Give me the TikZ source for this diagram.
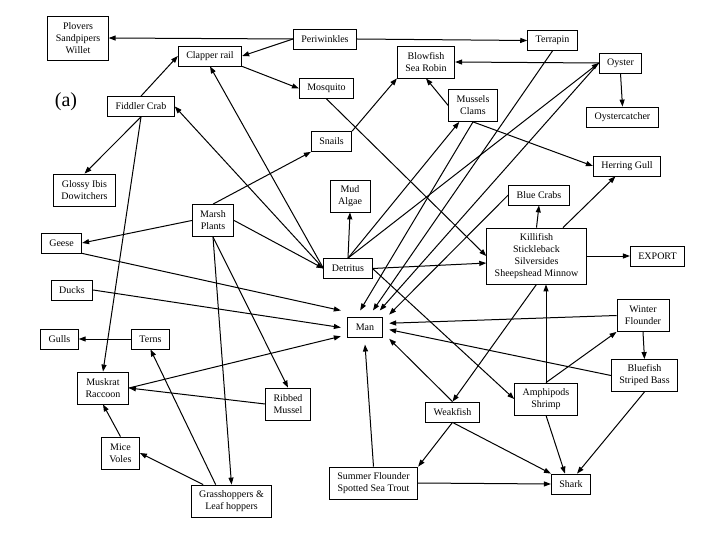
\documentclass[tikz,border=0pt]{standalone}
\usepackage{fontspec}
\setmainfont{Liberation Serif}
\usetikzlibrary{arrows.meta}

\begin{document}
\begin{tikzpicture}[x=1pt, y=-1pt, line width=1pt,
  >={Triangle[length=7pt, width=5pt]},
  sp/.style={draw, line width=0.8pt, align=center, inner xsep=8pt, inner ysep=2pt,
    minimum height=20pt, font=\fontsize{10}{12}\selectfont},
  l2/.style={minimum height=32pt},
  l3/.style={minimum height=44pt},
  l4/.style={minimum height=56pt}]
  \useasboundingbox (0,0) rectangle (720,540);

  \node[font=\fontsize{20}{24}\selectfont] (LBL) at (66,102) {(a)};

  \node[sp, l3] (PSW) at (78,38) {Plovers\\Sandpipers\\Willet};
  \node[sp] (CR) at (210,56) {Clapper rail};
  \node[sp] (PW) at (325,39) {Periwinkles};
  \node[sp] (TP) at (552.5,40.5) {Terrapin};
  \node[sp, l2] (BF) at (426,62) {Blowfish\\Sea Robin};
  \node[sp] (OY) at (620.5,63) {Oyster};
  \node[sp] (MQ) at (326.5,88.5) {Mosquito};
  \node[sp] (FC) at (141,106.5) {Fiddler Crab};
  \node[sp, l2] (MC) at (473,105.5) {Mussels\\Clams};
  \node[sp] (OC) at (622.5,117) {Oystercatcher};
  \node[sp] (SN) at (331.5,141.5) {Snails};
  \node[sp] (HG) at (627,166) {Herring Gull};
  \node[sp, l2] (GI) at (84.5,190) {Glossy Ibis\\Dowitchers};
  \node[sp, l2] (MA) at (350,196) {Mud\\Algae};
  \node[sp] (BC) at (539,195) {Blue Crabs};
  \node[sp, l2] (MP) at (213,220.5) {Marsh\\Plants};
  \node[sp] (GE) at (61.5,243) {Geese};
  \node[sp] (DT) at (348,268.5) {Detritus};
  \node[sp, l4] (KF) at (536.5,256) {Killifish\\Stickleback\\Silversides\\Sheepshead Minnow};
  \node[sp] (EX) at (657.5,256) {EXPORT};
  \node[sp] (DU) at (72,290) {Ducks};
  \node[sp, outer sep=7pt] (MN) at (365,327.5) {Man};
  \node[sp, l2] (WF) at (643,315.5) {Winter\\Flounder};
  \node[sp] (GU) at (59.5,339) {Gulls};
  \node[sp] (TE) at (150.5,339) {Terns};
  \node[sp, l2] (MR) at (103,388) {Muskrat\\Raccoon};
  \node[sp, l2] (RM) at (288,404) {Ribbed\\Mussel};
  \node[sp, l2] (BS) at (644.5,375.5) {Bluefish\\Striped Bass};
  \node[sp, l2] (AS) at (546,399) {Amphipods\\Shrimp};
  \node[sp] (WK) at (452.5,412) {Weakfish};
  \node[sp, l2] (MV) at (120.5,453) {Mice\\Voles};
  \node[sp, l2] (SF) at (373.5,483) {Summer Flounder\\Spotted Sea Trout};
  \node[sp] (SH) at (571,484) {Shark};
  \node[sp, l2] (GH) at (231.5,501) {Grasshoppers \&\\Leaf hoppers};

  % top of the marsh
  \draw[->] (PW.west) -- (PSW.east);
  \draw[->] (PW.west) -- (CR.east);
  \draw[->] (PW.east) -- (TP.west);
  \draw[->] (CR.south east) -- (MQ.west);
  \draw[->] (FC.north) -- (CR.west);
  \draw[->] (DT.west) -- (CR.south);
  \draw[->] (DT.west) -- (FC.east);
  \draw[->] (MP.east) -- (DT.west);
  \draw[->] (MP.north) -- (SN.south west);
  \draw[->] (SN.north east) -- (BF.south west);
  \draw[->] (MC.west) -- (BF.south);
  \draw[->] (OY.west) -- (BF.east);
  \draw[->] (OY.south) -- (OC.north);
  \draw[->] (MQ.south) -- (KF.west);
  \draw[->] (MC.south) -- (HG.west);

  % detritus
  \draw[->] (DT.north) -- (MA.south);
  \draw[->] (DT.north) -- (MC.-130);
  \draw[->] (DT.north) -- (OY.west);
  \draw[->] (DT.east) -- (KF.188);
  \draw[->] (DT.east) -- (AS.west);

  % fish
  \draw[->] (KF.47) -- (HG.-138);
  \draw[->] (KF.north) -- (BC.south);
  \draw[->] (KF.east) -- (EX.west);
  \draw[->] (KF.south) -- (WK.north);
  \draw[->] (AS.north) -- (AS.north |- KF.south);
  \draw[->] (AS.north) -- (WF.south west);
  \draw[->] (WF.south) -- (BS.north);
  \draw[->] (WK.south) -- (SF.north east);
  \draw[->] (WK.south) -- (SH.north west);
  \draw[->] (SF.east) -- (SH.west);
  \draw[->] (AS.south) -- (SH.120);
  \draw[->] (BS.south) -- (SH.60);

  % into Man
  \draw[->] (GE.south east) -- (MN.north west);
  \draw[->] (DU.east) -- (MN.west);
  \draw[->] (MR.east) -- (MN.200);
  \draw[->] (MC.south) -- (MN.106);
  \draw[->] (TP.south) -- (MN.65);
  \draw[->] (OY.west) -- (MN.49);
  \draw[->] (BC.west) -- (MN.28);
  \draw[->] (WF.west) -- (MN.10);
  \draw[->] (BS.west) -- (MN.-5);
  \draw[->] (WK.north) -- (MN.-25);
  \draw[->] (SF.north) -- (MN.south);

  % marsh side
  \draw[->] (MP.west) -- (GE.east);
  \draw[->] (MP.south) -- (RM.north);
  \draw[->] (MP.south) -- (GH.north);
  \draw[->] (FC.south) -- (GI.north);
  \draw[->] (FC.south) -- (MR.north);
  \draw[->] (TE.west) -- (GU.east);
  \draw[->] (GH.134) -- (TE.south);
  \draw[->] (GH.150) -- (MV.east);
  \draw[->] (MV.north) -- (MR.south);
  \draw[->] (RM.west) -- (MR.east);
\end{tikzpicture}
\end{document}
